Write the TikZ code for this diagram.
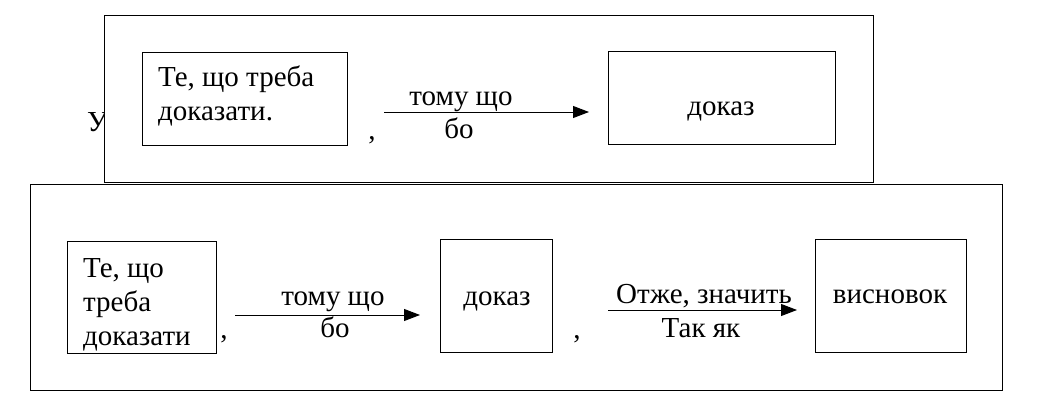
\documentclass[tikz,border=0pt]{standalone}
\usepackage{fontspec}
\setmainfont{Liberation Serif}
\usetikzlibrary{arrows.meta}
\begin{document}
\begin{tikzpicture}[x=1pt,y=-1pt,
  font=\fontsize{29}{34}\selectfont,
  frame/.style={draw, line width=0.9pt, inner sep=0pt},
  txt/.style={inner sep=0pt, align=left},
  arr/.style={line width=0.9pt, -{Triangle[length=16pt,width=12pt]}}]
\useasboundingbox (0,0) rectangle (1039,404);
\fill[white] (0,0) rectangle (1039,404);
% letter partly hidden behind upper frame
\node[txt, anchor=base west] (u) at (87,131) {У};
% upper frame
\node[frame, fill=white, minimum width=769pt, minimum height=167pt] (top) at (488.5,98.5) {};
\node[frame, minimum width=205pt, minimum height=93pt] (t1) at (244.5,98.5) {};
\node[txt, anchor=north west] (t1t) at (158,66) {Те, що треба\\доказати.};
\node[txt, anchor=base] (c1) at (372,139) {,};
\coordinate (ta) at (384,112);
\coordinate (tb) at (589,112);
\draw[arr] (ta) -- (tb);
\node[txt, anchor=base] (tl1) at (461,106) {тому що};
\node[txt, anchor=base] (tl2) at (459,138) {бо};
\node[frame, minimum width=227pt, minimum height=93pt] (t2) at (721.5,97.5) {};
\node[txt, anchor=base] (t2t) at (721,115) {доказ};
% lower frame
\node[frame, minimum width=972pt, minimum height=206pt] (bot) at (516,287) {};
\node[frame, minimum width=149pt, minimum height=112pt] (b1) at (141.5,297) {};
\node[txt, anchor=north west] (b1t) at (83,258) {Те, що\\треба\\доказати};
\node[txt, anchor=base] (c2) at (224,338) {,};
\coordinate (ba) at (235,315);
\coordinate (bb) at (420,315);
\draw[arr] (ba) -- (bb);
\node[txt, anchor=base] (bl1) at (333,305) {тому що};
\node[txt, anchor=base] (bl2) at (335,337) {бо};
\node[frame, minimum width=112pt, minimum height=113pt] (b2) at (496,295.5) {};
\node[txt, anchor=base] (b2t) at (497,305) {доказ};
\node[txt, anchor=base] (c3) at (577,338) {,};
\coordinate (bc) at (608,310);
\coordinate (bd) at (797,310);
\draw[arr] (bc) -- (bd);
\node[txt, anchor=base] (bl3) at (704,303) {Отже, значить};
\node[txt, anchor=base] (bl4) at (701,337) {Так як};
\node[frame, minimum width=151pt, minimum height=113pt] (b3) at (890.5,295.5) {};
\node[txt, anchor=base] (b3t) at (890,303) {висновок};
\end{tikzpicture}
\end{document}
